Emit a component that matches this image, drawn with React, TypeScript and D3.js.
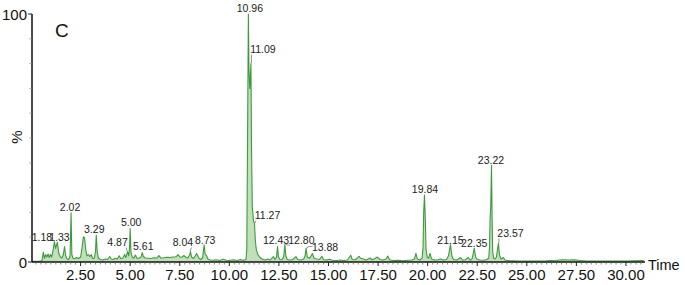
import React from "react";
import * as d3 from "d3";

// ---- Data ----
const traceTime: number[] = [
  0.05, 0.4, 0.55, 0.62, 0.68, 0.74, 0.8, 0.86, 0.92, 0.98, 1.04, 1.12, 1.18, 1.24, 1.33, 1.4, 1.48, 1.56,
  1.63, 1.69, 1.75, 1.82, 1.9, 1.97, 2.02, 2.06, 2.12, 2.2, 2.3, 2.4, 2.5, 2.58, 2.64, 2.7, 2.76, 2.82,
  2.9, 2.96, 3.04, 3.1, 3.18, 3.25, 3.29, 3.34, 3.4, 3.5, 3.62, 3.75, 3.86, 3.97, 4.05, 4.15, 4.25, 4.35,
  4.45, 4.52, 4.62, 4.72, 4.78, 4.87, 4.93, 4.97, 5.0, 5.04, 5.1, 5.18, 5.26, 5.34, 5.45, 5.55, 5.61, 5.67,
  5.76, 5.9, 6.05, 6.2, 6.35, 6.45, 6.55, 6.7, 6.85, 7.0, 7.15, 7.3, 7.42, 7.5, 7.6, 7.7, 7.8, 7.9, 8.0,
  8.04, 8.1, 8.2, 8.35, 8.45, 8.55, 8.65, 8.73, 8.78, 8.85, 8.92, 9.05, 9.2, 9.35, 9.5, 9.7, 9.85, 10.0,
  10.2, 10.4, 10.55, 10.7, 10.84, 10.88, 10.92, 10.96, 10.99, 11.03, 11.06, 11.09, 11.12, 11.16,
  11.22, 11.27, 11.31, 11.36, 11.44, 11.55, 11.65, 11.8, 11.95, 12.05, 12.22, 12.3, 12.38, 12.43, 12.48,
  12.55, 12.65, 12.74, 12.8, 12.85, 12.92, 13.05, 13.2, 13.36, 13.45, 13.6, 13.75, 13.82, 13.87, 13.93,
  14.05, 14.19, 14.27, 14.4, 14.55, 14.66, 14.75, 14.9, 15.05, 15.2, 15.4, 15.6, 15.8, 15.95, 16.12, 16.2,
  16.35, 16.54, 16.62, 16.75, 16.9, 17.1, 17.2, 17.35, 17.46, 17.6, 17.75, 17.9, 17.99, 18.08, 18.25,
  18.5, 18.75, 19.0, 19.2, 19.33, 19.41, 19.48, 19.6, 19.72, 19.77, 19.8, 19.84, 19.88, 19.92, 19.98,
  20.05, 20.12, 20.2, 20.35, 20.5, 20.65, 20.8, 20.95, 21.05, 21.15, 21.22, 21.3, 21.45, 21.55, 21.67,
  21.75, 21.9, 22.05, 22.15, 22.25, 22.35, 22.42, 22.5, 22.65, 22.8, 22.95, 23.08, 23.12, 23.15, 23.18,
  23.22, 23.25, 23.28, 23.33, 23.4, 23.47, 23.52, 23.57, 23.62, 23.7, 23.82, 23.9, 24.05, 24.3, 24.6,
  25.0, 25.5, 26.0, 26.5, 26.8, 27.1, 27.4, 27.7, 28.0, 28.5, 29.0, 29.5, 30.0, 30.4, 30.9,
];
const traceIntensity: number[] = [
  0.3, 0.3, 0.5, 4.0, 1.5, 3.0, 2.0, 3.2, 1.8, 3.0, 2.0, 5.0, 8.2, 5.5, 8.0, 3.5, 2.0, 1.6,
  3.0, 6.2, 2.5, 1.2, 1.0, 2.5, 19.8, 3.0, 1.5, 1.3, 1.8, 1.4, 2.0, 6.0, 10.2, 9.8, 5.0, 2.5,
  3.0, 2.2, 3.0, 1.5, 1.4, 4.0, 10.8, 4.0, 1.5, 1.0, 0.8, 1.2, 1.0, 2.2, 1.2, 1.0, 1.5, 1.2,
  2.5, 1.4, 1.5, 3.0, 1.8, 4.2, 2.5, 6.0, 13.5, 4.0, 2.0, 1.5, 2.8, 1.5, 1.5, 2.0, 3.8, 2.2,
  1.6, 1.5, 1.4, 1.7, 1.6, 2.6, 1.6, 1.7, 1.9, 1.8, 2.0, 2.1, 3.0, 2.0, 1.9, 2.6, 2.0, 1.6, 2.8,
  4.2, 2.0, 1.4, 3.4, 1.8, 1.0, 1.6, 6.9, 3.2, 2.6, 1.2, 0.8, 0.7, 0.9, 0.6, 1.1, 0.7, 0.6,
  0.9, 0.6, 1.0, 0.7, 1.0, 5.0, 50, 100, 78, 70, 74, 80, 45, 22,
  16.5, 15.5, 9, 5, 3.0, 1.8, 1.2, 0.8, 1.2, 0.8, 2.2, 1.0, 2.0, 6.2, 2.0,
  1.0, 0.9, 2.0, 6.9, 2.4, 1.0, 0.8, 1.0, 2.2, 1.0, 0.8, 1.2, 2.5, 5.5, 2.0,
  1.5, 3.4, 1.6, 1.2, 1.0, 2.3, 1.0, 0.8, 1.1, 0.7, 0.6, 0.8, 0.6, 0.8, 2.7, 1.0,
  0.9, 2.3, 1.5, 1.2, 0.8, 1.6, 0.9, 1.4, 2.0, 1.0, 0.8, 1.2, 2.4, 0.9, 0.6,
  0.7, 0.5, 0.7, 0.8, 1.2, 3.5, 1.2, 0.8, 1.5, 6.0, 20, 27, 18, 5.0, 2.0,
  1.5, 3.5, 1.2, 0.8, 0.9, 1.2, 0.8, 1.0, 2.5, 7.0, 2.5, 1.0, 0.8, 1.2, 1.8,
  0.8, 0.9, 1.8, 0.7, 1.5, 5.5, 2.0, 1.0, 0.8, 0.7, 0.9, 1.5, 6.0, 18, 22,
  39, 18, 4.0, 1.5, 1.2, 2.0, 5.0, 7.5, 3.0, 1.2, 1.8, 0.8, 0.6, 0.5, 0.4,
  0.4, 0.4, 0.5, 0.7, 0.9, 0.8, 0.9, 0.6, 0.4, 0.4, 0.4, 0.4, 0.4, 0.5, 0.6,
];

const peakLabels: string[] = [
  "1.18", "1.33", "2.02", "3.29", "4.87", "5.00", "5.61", "8.04", "8.73", "10.96", "11.09",
  "11.27", "12.43", "12.80", "13.88", "19.84", "21.15", "22.35", "23.22", "23.57",
];
const peakTimes: number[] = [
  1.18, 1.33, 2.02, 3.29, 4.87, 5.0, 5.61, 8.04, 8.73, 10.96, 11.09,
  11.27, 12.43, 12.8, 13.87, 19.84, 21.15, 22.35, 23.22, 23.57,
];

const xTickValues: number[] = [2.5, 5, 7.5, 10, 12.5, 15, 17.5, 20, 22.5, 25, 27.5, 30];
const yTickValues: number[] = [0, 100];

// ---- Layout (pixel offsets of peak labels relative to peak apex) ----
// [dx of text centre, dy of text baseline, hasLeader]
const labelLayout: [number, number, boolean][] = [
  [-12.5, -1, false], // 1.18
  [2, -1, false], // 1.33
  [-1, -2, false], // 2.02
  [-2, -2, false], // 3.29
  [-10, -5.5, true], // 4.87
  [1, -2.5, false], // 5.00
  [1, -2.5, false], // 5.61
  [-7.5, -5.5, true], // 8.04
  [1, -1, false], // 8.73
  [1.5, -2, false], // 10.96
  [12, -10.5, true], // 11.09
  [13, -4.5, true], // 11.27
  [-1.5, -2.5, false], // 12.43
  [16.5, -1, true], // 12.80
  [19, 2.6, true], // 13.88
  [0.5, -2, false], // 19.84
  [0, -0.6, false], // 21.15
  [0, -1.4, false], // 22.35
  [-0.5, -1.3, false], // 23.22
  [12, -6.4, true], // 23.57
];

const W = 685;
const H = 285;
const FONT = "'Liberation Sans', Arial, sans-serif";

export default function App() {
  const x = d3.scaleLinear().domain([0.05, 30.96]).range([32, 645]);
  const y = d3.scaleLinear().domain([0, 100]).range([262, 14]);

  const pts: [number, number][] = traceTime.map((t, i) => [t, traceIntensity[i]]);
  const line = d3
    .line<[number, number]>()
    .x((d) => x(d[0]))
    .y((d) => y(d[1]));
  const area = d3
    .area<[number, number]>()
    .x((d) => x(d[0]))
    .y0(y(0))
    .y1((d) => y(d[1]));

  const minorX = d3.range(0.25, 30.9, 0.25).filter((v) => Math.abs((v / 2.5) - Math.round(v / 2.5)) > 1e-6);
  const minorY = d3.range(10, 100, 10);

  const intensityAt = (t: number) => {
    let best = 0;
    let bd = Infinity;
    traceTime.forEach((tt, i) => {
      const d = Math.abs(tt - t);
      if (d < bd) {
        bd = d;
        best = traceIntensity[i];
      }
    });
    return best;
  };

  return (
    <svg
      width={W}
      height={H}
      style={{ position: "absolute", left: 0, top: 0, background: "#fff" }}
      fontFamily={FONT}
    >
      <rect x={0} y={0} width={W} height={H} fill="#fff" />
      {/* trace */}
      <path d={area(pts) || ""} fill="#bfe0b8" stroke="none" />
      <path d={line(pts) || ""} fill="none" stroke="#3f9a3f" strokeWidth={1.1} strokeLinejoin="round" />

      {/* x axis */}
      <line x1={32} x2={645} y1={262} y2={262} stroke="#111" strokeWidth={1.3} />
      {minorX.map((v) => (
        <line key={"mx" + v} x1={x(v)} x2={x(v)} y1={262} y2={264.5} stroke="#666" strokeWidth={0.8} />
      ))}
      {xTickValues.map((v) => (
        <g key={"xt" + v}>
          <line x1={x(v)} x2={x(v)} y1={262} y2={266} stroke="#222" strokeWidth={1} />
          <text x={x(v)} y={280} textAnchor="middle" fontSize={15} fill="#111">
            {v.toFixed(2)}
          </text>
        </g>
      ))}
      <text x={648} y={270} fontSize={14.5} fill="#111">
        Time
      </text>

      {/* y axis */}
      <line x1={32} x2={32} y1={14} y2={262} stroke="#111" strokeWidth={1.5} />
      {minorY.map((v) => (
        <line key={"my" + v} x1={29.5} x2={32} y1={y(v)} y2={y(v)} stroke="#888" strokeWidth={0.8} />
      ))}
      {yTickValues.map((v) => (
        <g key={"yt" + v}>
          <line x1={28} x2={32} y1={y(v)} y2={y(v)} stroke="#222" strokeWidth={1} />
          <text x={27} y={y(v) + 5.5} textAnchor="end" fontSize={15} fill="#111">
            {v}
          </text>
        </g>
      ))}
      <text
        transform={`translate(${22},${137}) rotate(-90)`}
        textAnchor="middle"
        fontSize={15}
        fill="#111"
      >
        %
      </text>
      <text x={55} y={37} fontSize={19} fill="#111">
        C
      </text>

      {/* peak labels */}
      {peakLabels.map((lab, i) => {
        const t = peakTimes[i];
        const ax = x(t);
        const ay = y(intensityAt(t));
        const [dx, dy, leader] = labelLayout[i];
        const tx = ax + dx;
        const ty = ay + dy;
        const halfW = 12.5;
        let leaderEl = null;
        if (leader) {
          const lx = dx > 0 ? tx - halfW + 1 : tx + halfW - 4;
          const ly = ty + 1.5;
          if (lab === "13.88") {
            leaderEl = (
              <polyline
                points={`${ax},${ay} ${ax + 3},${ty - 4.5} ${tx - halfW},${ty - 4.5}`}
                fill="none"
                stroke="#777"
                strokeWidth={0.8}
              />
            );
          } else {
            leaderEl = <line x1={lx} y1={ly} x2={ax + (dx > 0 ? 0.5 : -0.5)} y2={ay - 0.5} stroke="#777" strokeWidth={0.8} />;
          }
        }
        return (
          <g key={"pl" + lab}>
            {leaderEl}
            <text x={tx} y={ty} textAnchor="middle" fontSize={10.5} fill="#222">
              {lab}
            </text>
          </g>
        );
      })}
    </svg>
  );
}
